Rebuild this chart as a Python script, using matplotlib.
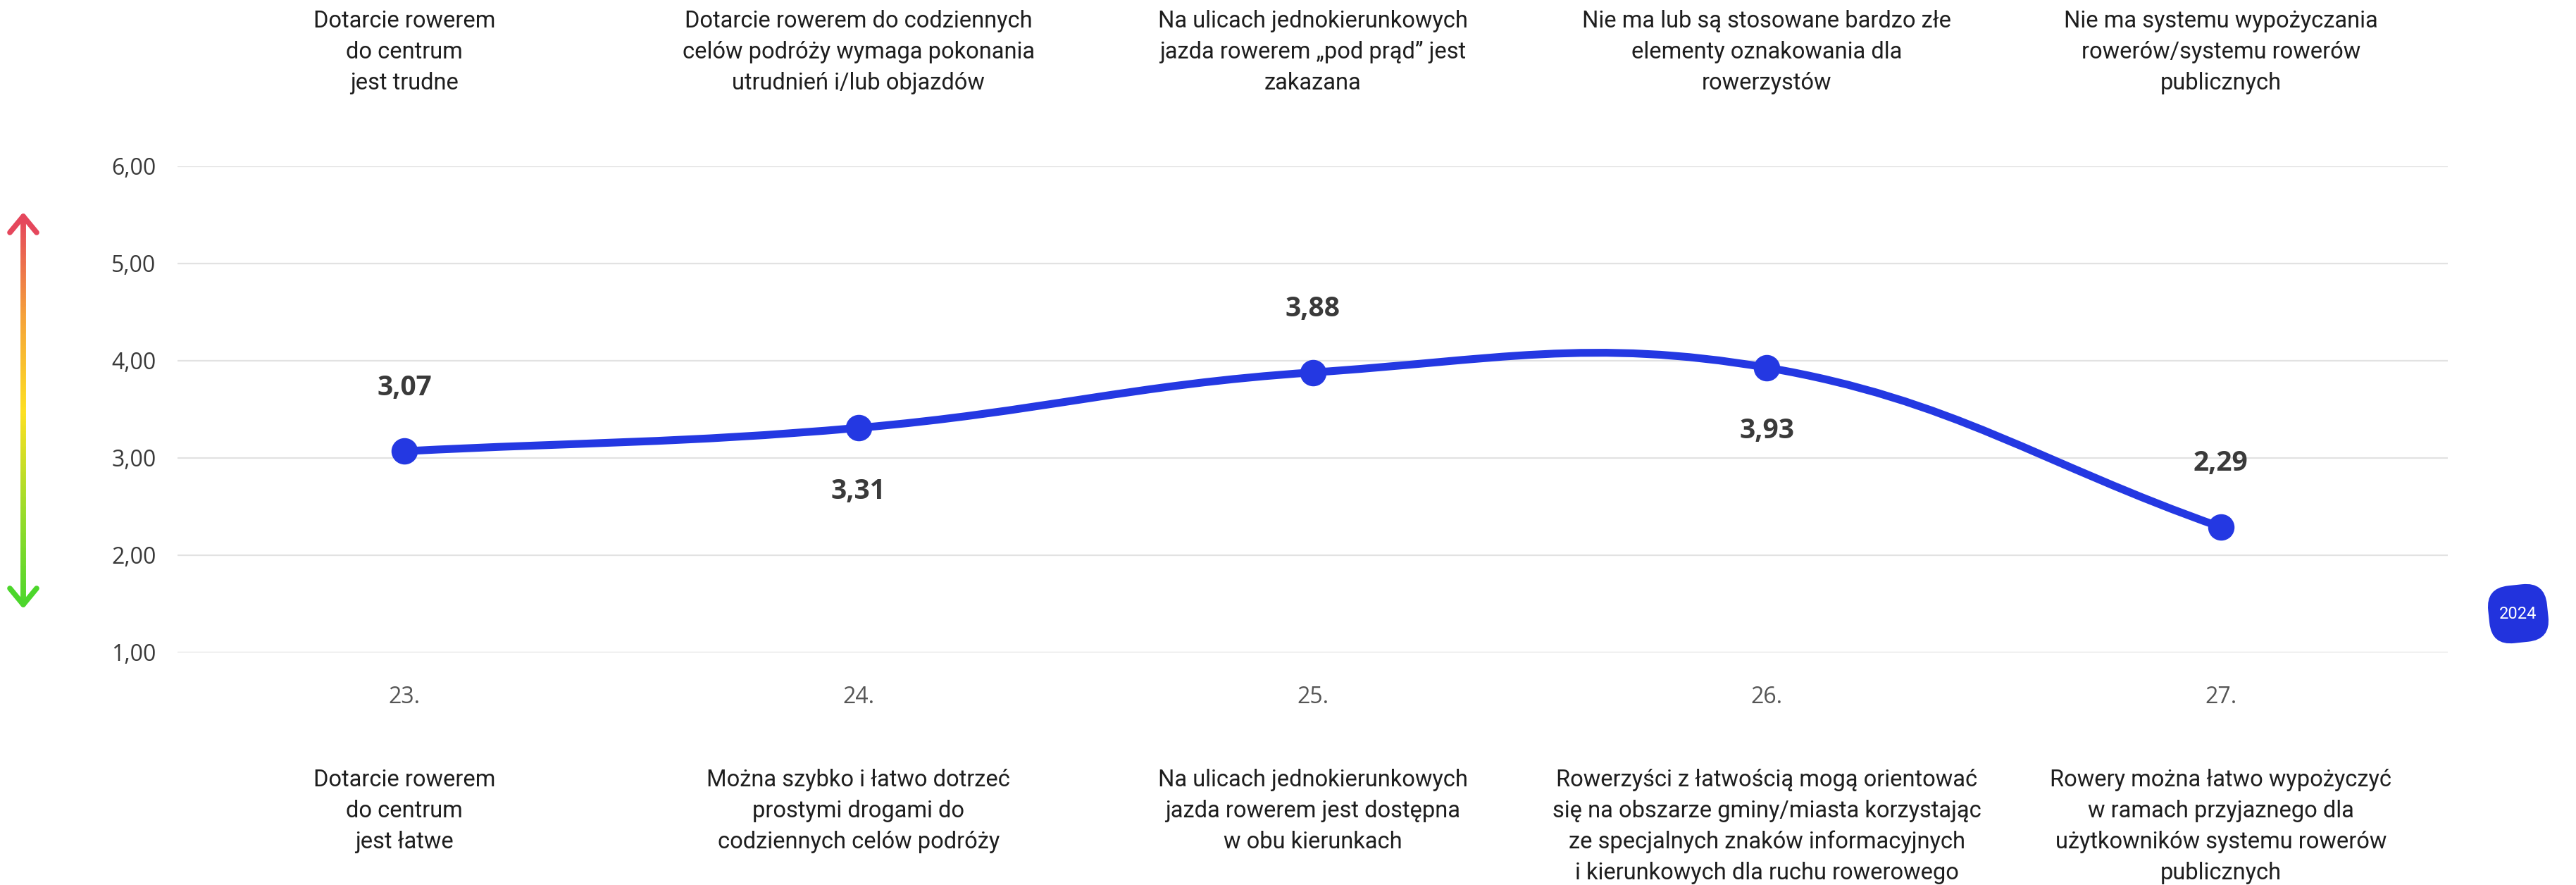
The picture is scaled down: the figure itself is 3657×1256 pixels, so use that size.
import matplotlib
matplotlib.use('Agg')
import matplotlib.pyplot as plt
import numpy as np
from matplotlib.path import Path
from matplotlib.patches import PathPatch, FancyBboxPatch
from matplotlib.collections import LineCollection
from matplotlib.colors import LinearSegmentedColormap
from matplotlib.transforms import blended_transform_factory, IdentityTransform, Affine2D

# dane
numery = ['23.', '24.', '25.', '26.', '27.']
wyniki = [3.07, 3.31, 3.88, 3.93, 2.29]
polozenie_etykiet = ['gora', 'dol', 'gora', 'dol', 'gora']
opisy_gora = [
    'Dotarcie rowerem\ndo centrum\njest trudne',
    'Dotarcie rowerem do codziennych\ncelów podróży wymaga pokonania\nutrudnień i/lub objazdów',
    'Na ulicach jednokierunkowych\njazda rowerem „pod prąd” jest\nzakazana',
    'Nie ma lub są stosowane bardzo złe\nelementy oznakowania dla\nrowerzystów',
    'Nie ma systemu wypożyczania\nrowerów/systemu rowerów\npublicznych',
]
opisy_dol = [
    'Dotarcie rowerem\ndo centrum\njest łatwe',
    'Można szybko i łatwo dotrzeć\nprostymi drogami do\ncodziennych celów podróży',
    'Na ulicach jednokierunkowych\njazda rowerem jest dostępna\nw obu kierunkach',
    'Rowerzyści z łatwością mogą orientować\nsię na obszarze gminy/miasta korzystając\nze specjalnych znaków informacyjnych\ni kierunkowych dla ruchu rowerowego',
    'Rowery można łatwo wypożyczyć\nw ramach przyjaznego dla\nużytkowników systemu rowerów\npublicznych',
]
rok = '2024'
skala_y = [1, 2, 3, 4, 5, 6]

NIEBIESKI = '#2438e2'
W, H = 3657, 1256

fig = plt.figure(figsize=(W / 100, H / 100), dpi=100)
ax = fig.add_axes([252 / W, 1 - 926 / H, (3475 - 252) / W, (926 - 236) / H])
x = np.arange(len(wyniki))
ax.set_xlim(-0.5, len(wyniki) - 0.5)
ax.set_ylim(skala_y[0], skala_y[-1])

# siatka
ax.set_yticks(skala_y)
ax.set_yticklabels([f'{v:.2f}'.replace('.', ',') for v in skala_y],
                   fontfamily='Open Sans', fontsize=23, color='#3a3a3a')
ax.set_xticks(x)
ax.set_xticklabels(numery, fontfamily='Open Sans', fontsize=23, color='#555555')
ax.tick_params(axis='both', length=0)
ax.tick_params(axis='y', pad=22)
ax.tick_params(axis='x', pad=34)
ax.grid(axis='y', color='#e2e2e2', linewidth=1.6)
ax.set_axisbelow(True)
for s in ax.spines.values():
    s.set_visible(False)

# krzywa (jak spline w Chart.js, tension 0.4)
pkt = ax.transData.transform(np.column_stack([x, wyniki]))
n = len(pkt)
lewe, prawe = [], []
for i in range(n):
    p0 = pkt[max(i - 1, 0)]
    p1 = pkt[i]
    p2 = pkt[min(i + 1, n - 1)]
    d01 = np.hypot(*(p1 - p0))
    d12 = np.hypot(*(p2 - p1))
    s01 = d01 / (d01 + d12)
    s12 = d12 / (d01 + d12)
    lewe.append(p1 - 0.4 * s01 * (p2 - p0))
    prawe.append(p1 + 0.4 * s12 * (p2 - p0))
verts = [pkt[0]]
codes = [Path.MOVETO]
for i in range(1, n):
    verts += [prawe[i - 1], lewe[i], pkt[i]]
    codes += [Path.CURVE4] * 3
verts = ax.transData.inverted().transform(np.array(verts))
ax.add_patch(PathPatch(Path(verts, codes), facecolor='none', edgecolor=NIEBIESKI,
                       linewidth=8, capstyle='round', joinstyle='round', zorder=3))
ax.plot(x, wyniki, linestyle='none', marker='o', markersize=26,
        color=NIEBIESKI, zorder=4)

# etykiety wartości
for xi, v, pol in zip(x, wyniki, polozenie_etykiet):
    dy = 65 if pol == 'gora' else -65
    ax.annotate(f'{v:.2f}'.replace('.', ','), (xi, v), xytext=(0, dy),
                textcoords='offset points', ha='center', va='center',
                fontfamily='Open Sans', fontweight='bold', fontsize=28, color='#3a3a3a')

# opisy nad i pod wykresem (każda linia osobno, stały odstęp 44 px)
tr = blended_transform_factory(ax.transData, fig.transFigure)
KROK = 44 / H


def opis(xi, tekst, y0):
    for j, linia in enumerate(tekst.split('\n')):
        ax.text(xi, y0 - j * KROK, linia, transform=tr, ha='center', va='baseline',
                fontfamily='Roboto', fontsize=23.5, color='#1e1e1e')


for xi, t in zip(x, opisy_gora):
    opis(xi, t, 1 - 39 / H)
for xi, t in zip(x, opisy_dol):
    opis(xi, t, 1 - 1116 / H)

# strzałka z gradientem po lewej
cmap = LinearSegmentedColormap.from_list(
    'strzalka', ['#4cd62b', '#9ddc2a', '#fde022', '#f5a23a', '#e5475c'])
ax_x = 33 / W
y_dol, y_gora = 1 - 858 / H, 1 - 307 / H
ys = np.linspace(y_dol, y_gora, 200)
segs = [[(ax_x, ys[i]), (ax_x, ys[i + 1])] for i in range(len(ys) - 1)]
lc = LineCollection(segs, colors=cmap(np.linspace(0, 1, len(segs))),
                    linewidths=5.5, transform=fig.transFigure, capstyle='round')
fig.add_artist(lc)
dx, dy = 19 / W, 23 / H
fig.add_artist(plt.Line2D([ax_x - dx, ax_x, ax_x + dx], [y_gora - dy, y_gora, y_gora - dy],
                          color='#e5475c', linewidth=5.5, solid_capstyle='round',
                          solid_joinstyle='round', transform=fig.transFigure))
fig.add_artist(plt.Line2D([ax_x - dx, ax_x, ax_x + dx], [y_dol + dy, y_dol, y_dol + dy],
                          color='#4cd62b', linewidth=5.5, solid_capstyle='round',
                          solid_joinstyle='round', transform=fig.transFigure))

# znaczek roku
cx, cy = 3575, H - 871
obrot = Affine2D().rotate_deg_around(cx, cy, 6)
fig.add_artist(FancyBboxPatch((cx - 42, cy - 41), 84, 82,
                              boxstyle='round,pad=0,rounding_size=32',
                              facecolor='#2233dd', edgecolor='none',
                              transform=obrot + IdentityTransform()))
fig.text(cx / W, cy / H, rok, ha='center', va='center', fontfamily='Roboto',
         fontsize=17, color='white')

fig.savefig('out.png', dpi=100)
